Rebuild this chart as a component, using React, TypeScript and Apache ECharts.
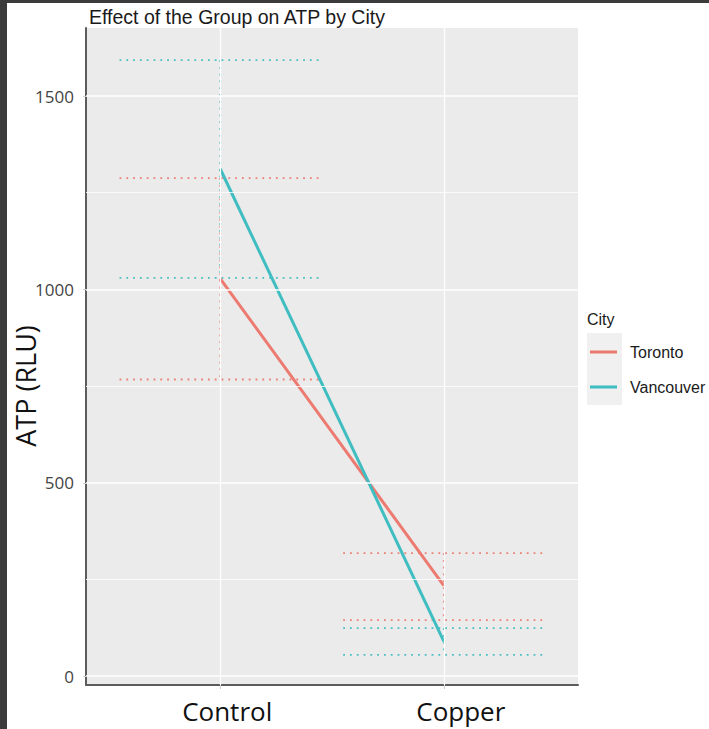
import React, { useEffect, useRef } from "react";
import * as echarts from "echarts";

const categories = ["Control", "Copper"];
const categoryPositions = [1, 2];
const cities = ["Toronto", "Vancouver"];
const torontoMean = [1028, 234];
const torontoLow = [767, 145];
const torontoHigh = [1288, 318];
const vancouverMean = [1312, 90];
const vancouverLow = [1030, 55];
const vancouverHigh = [1593, 124];
const yTicks = [0, 500, 1000, 1500];
const yMinorTicks = [250, 750, 1250];
const chartTitle = "Effect of the Group on ATP by City";
const yAxisTitle = "ATP (RLU)";
const legendTitle = "City";

const COLORS = ["#EC7A70", "#3FBDC0"];
const LABEL_FONT = "'Open Sans', sans-serif";
const ARIAL = "'Liberation Sans', Arial, sans-serif";

function errorBarSeries(name: string, color: string, low: number[], high: number[]) {
  return {
    type: "custom",
    name: name + " error",
    z: 3,
    silent: true,
    data: categoryPositions.map((x, i) => [x, low[i], high[i]]),
    encode: { x: 0, y: [1, 2] },
    renderItem: (params: any, api: any) => {
      const x = api.value(0);
      const lo = api.value(1);
      const hi = api.value(2);
      const hw = 0.45;
      const a = api.coord([x - hw, hi]);
      const b = api.coord([x + hw, hi]);
      const c = api.coord([x - hw, lo]);
      const d = api.coord([x + hw, lo]);
      const t = api.coord([x, hi]);
      const u = api.coord([x, lo]);
      const style = { stroke: color, lineWidth: 1.8, lineDash: [1.8, 5], fill: null, opacity: 0.95 };
      return {
        type: "group",
        children: [
          { type: "line", shape: { x1: a[0], y1: a[1], x2: b[0], y2: b[1] }, style },
          { type: "line", shape: { x1: c[0], y1: c[1], x2: d[0], y2: d[1] }, style },
          { type: "line", shape: { x1: t[0], y1: t[1], x2: u[0], y2: u[1] }, style },
        ],
      };
    },
  };
}

export default function App() {
  const ref = useRef<HTMLDivElement>(null);
  useEffect(() => {
    document.body.style.margin = "0";
    const chart = echarts.init(ref.current!, null, { renderer: "svg" });
    const option: any = {
      animation: false,
      backgroundColor: "#ffffff",
      title: {
        text: chartTitle,
        left: 84,
        top: 2,
        textStyle: { fontFamily: ARIAL, fontSize: 19.5, fontWeight: "normal", color: "#1a1a1a" },
      },
      grid: {
        left: 86,
        right: 131,
        top: 28,
        bottom: 44,
        show: true,
        backgroundColor: "#ebebeb",
        borderWidth: 0,
        containLabel: false,
        outerBoundsMode: "none",
      },
      legend: {
        orient: "vertical",
        left: 585,
        top: 337,
        itemWidth: 27,
        itemHeight: 3,
        itemGap: 15,
        data: cities.map((c) => ({ name: c, icon: "rect" })),
        textStyle: { fontFamily: ARIAL, fontSize: 16, color: "#1a1a1a", padding: [0, 0, 0, 8], lineHeight: 20 },
      },
      graphic: [
        { type: "rect", z: -1, shape: { x: 587, y: 333, width: 35, height: 72 }, style: { fill: "#f0f0f0" } },
        { type: "text", x: 587, y: 311, style: { text: legendTitle, font: "16px " + ARIAL, fill: "#1a1a1a" } },
        {
          type: "text",
          x: 25,
          y: 386,
          rotation: Math.PI / 2,
          style: { text: yAxisTitle, font: "27px " + LABEL_FONT, fill: "#111", align: "center", verticalAlign: "middle" },
        },
        { type: "rect", z: 100, shape: { x: 0, y: 0, width: 709, height: 3 }, style: { fill: "#3b3b3b" } },
        { type: "rect", z: 100, shape: { x: 0, y: 0, width: 7, height: 729 }, style: { fill: "#3b3b3b" } },
      ],
      xAxis: {
        type: "value",
        min: 0.4,
        max: 2.6,
        splitLine: { show: false },
        axisLine: { show: true, onZero: false, lineStyle: { color: "#5c5c5c", width: 2 } },
        axisTick: { show: true, customValues: categoryPositions, length: 4, lineStyle: { color: "#cfcfcf" } },
        axisLabel: {
          customValues: categoryPositions,
          formatter: (v: number) => {
            const i = categoryPositions.indexOf(v);
            return i < 0 ? "" : "{c" + i + "|" + categories[i] + "}";
          },
          rich: {
            c0: { fontFamily: LABEL_FONT, fontSize: 26, color: "#111", padding: [0, 0, 0, 14] },
            c1: { fontFamily: LABEL_FONT, fontSize: 26, color: "#111", padding: [0, 0, 0, 34] },
          },
          fontFamily: LABEL_FONT,
          fontSize: 26,
          color: "#111",
          margin: 13,
        },
      },
      yAxis: {
        type: "value",
        min: -23,
        max: 1676,
        splitLine: { show: false },
        axisLine: { show: true, onZero: false, lineStyle: { color: "#5c5c5c", width: 2 } },
        axisTick: { show: true, customValues: yTicks, length: 3, lineStyle: { color: "#cfcfcf" } },
        axisLabel: {
          customValues: yTicks,
          formatter: (v: number) => String(v),
          fontFamily: LABEL_FONT,
          fontSize: 17,
          color: "#444",
          margin: 12,
        },
      },
      series: [
        {
          type: "line",
          name: "grid",
          z: 1,
          data: [],
          silent: true,
          markLine: {
            silent: true,
            symbol: ["none", "none"],
            label: { show: false },
            emphasis: { disabled: true },
            lineStyle: { color: "#ffffff", width: 1.6, type: "solid" },
            data: [
              ...yTicks.map((v) => ({ yAxis: v })),
              ...yMinorTicks.map((v) => ({ yAxis: v, lineStyle: { width: 0.8, color: "#ffffff", type: "solid" } })),
              ...categoryPositions.map((v) => ({ xAxis: v, lineStyle: { width: 1.2, color: "#ffffff", type: "solid" } })),
            ],
          },
        },
        errorBarSeries(cities[0], COLORS[0], torontoLow, torontoHigh),
        errorBarSeries(cities[1], COLORS[1], vancouverLow, vancouverHigh),
        {
          type: "line",
          name: cities[0],
          z: 4,
          color: COLORS[0],
          symbol: "none",
          lineStyle: { width: 3, color: COLORS[0] },
          data: categoryPositions.map((x, i) => [x, torontoMean[i]]),
        },
        {
          type: "line",
          name: cities[1],
          z: 4,
          color: COLORS[1],
          symbol: "none",
          lineStyle: { width: 3, color: COLORS[1] },
          data: categoryPositions.map((x, i) => [x, vancouverMean[i]]),
        },
      ],
    };
    chart.setOption(option);
    return () => chart.dispose();
  }, []);
  return <div ref={ref} style={{ position: "absolute", left: 0, top: 0, width: 709, height: 729 }} />;
}
